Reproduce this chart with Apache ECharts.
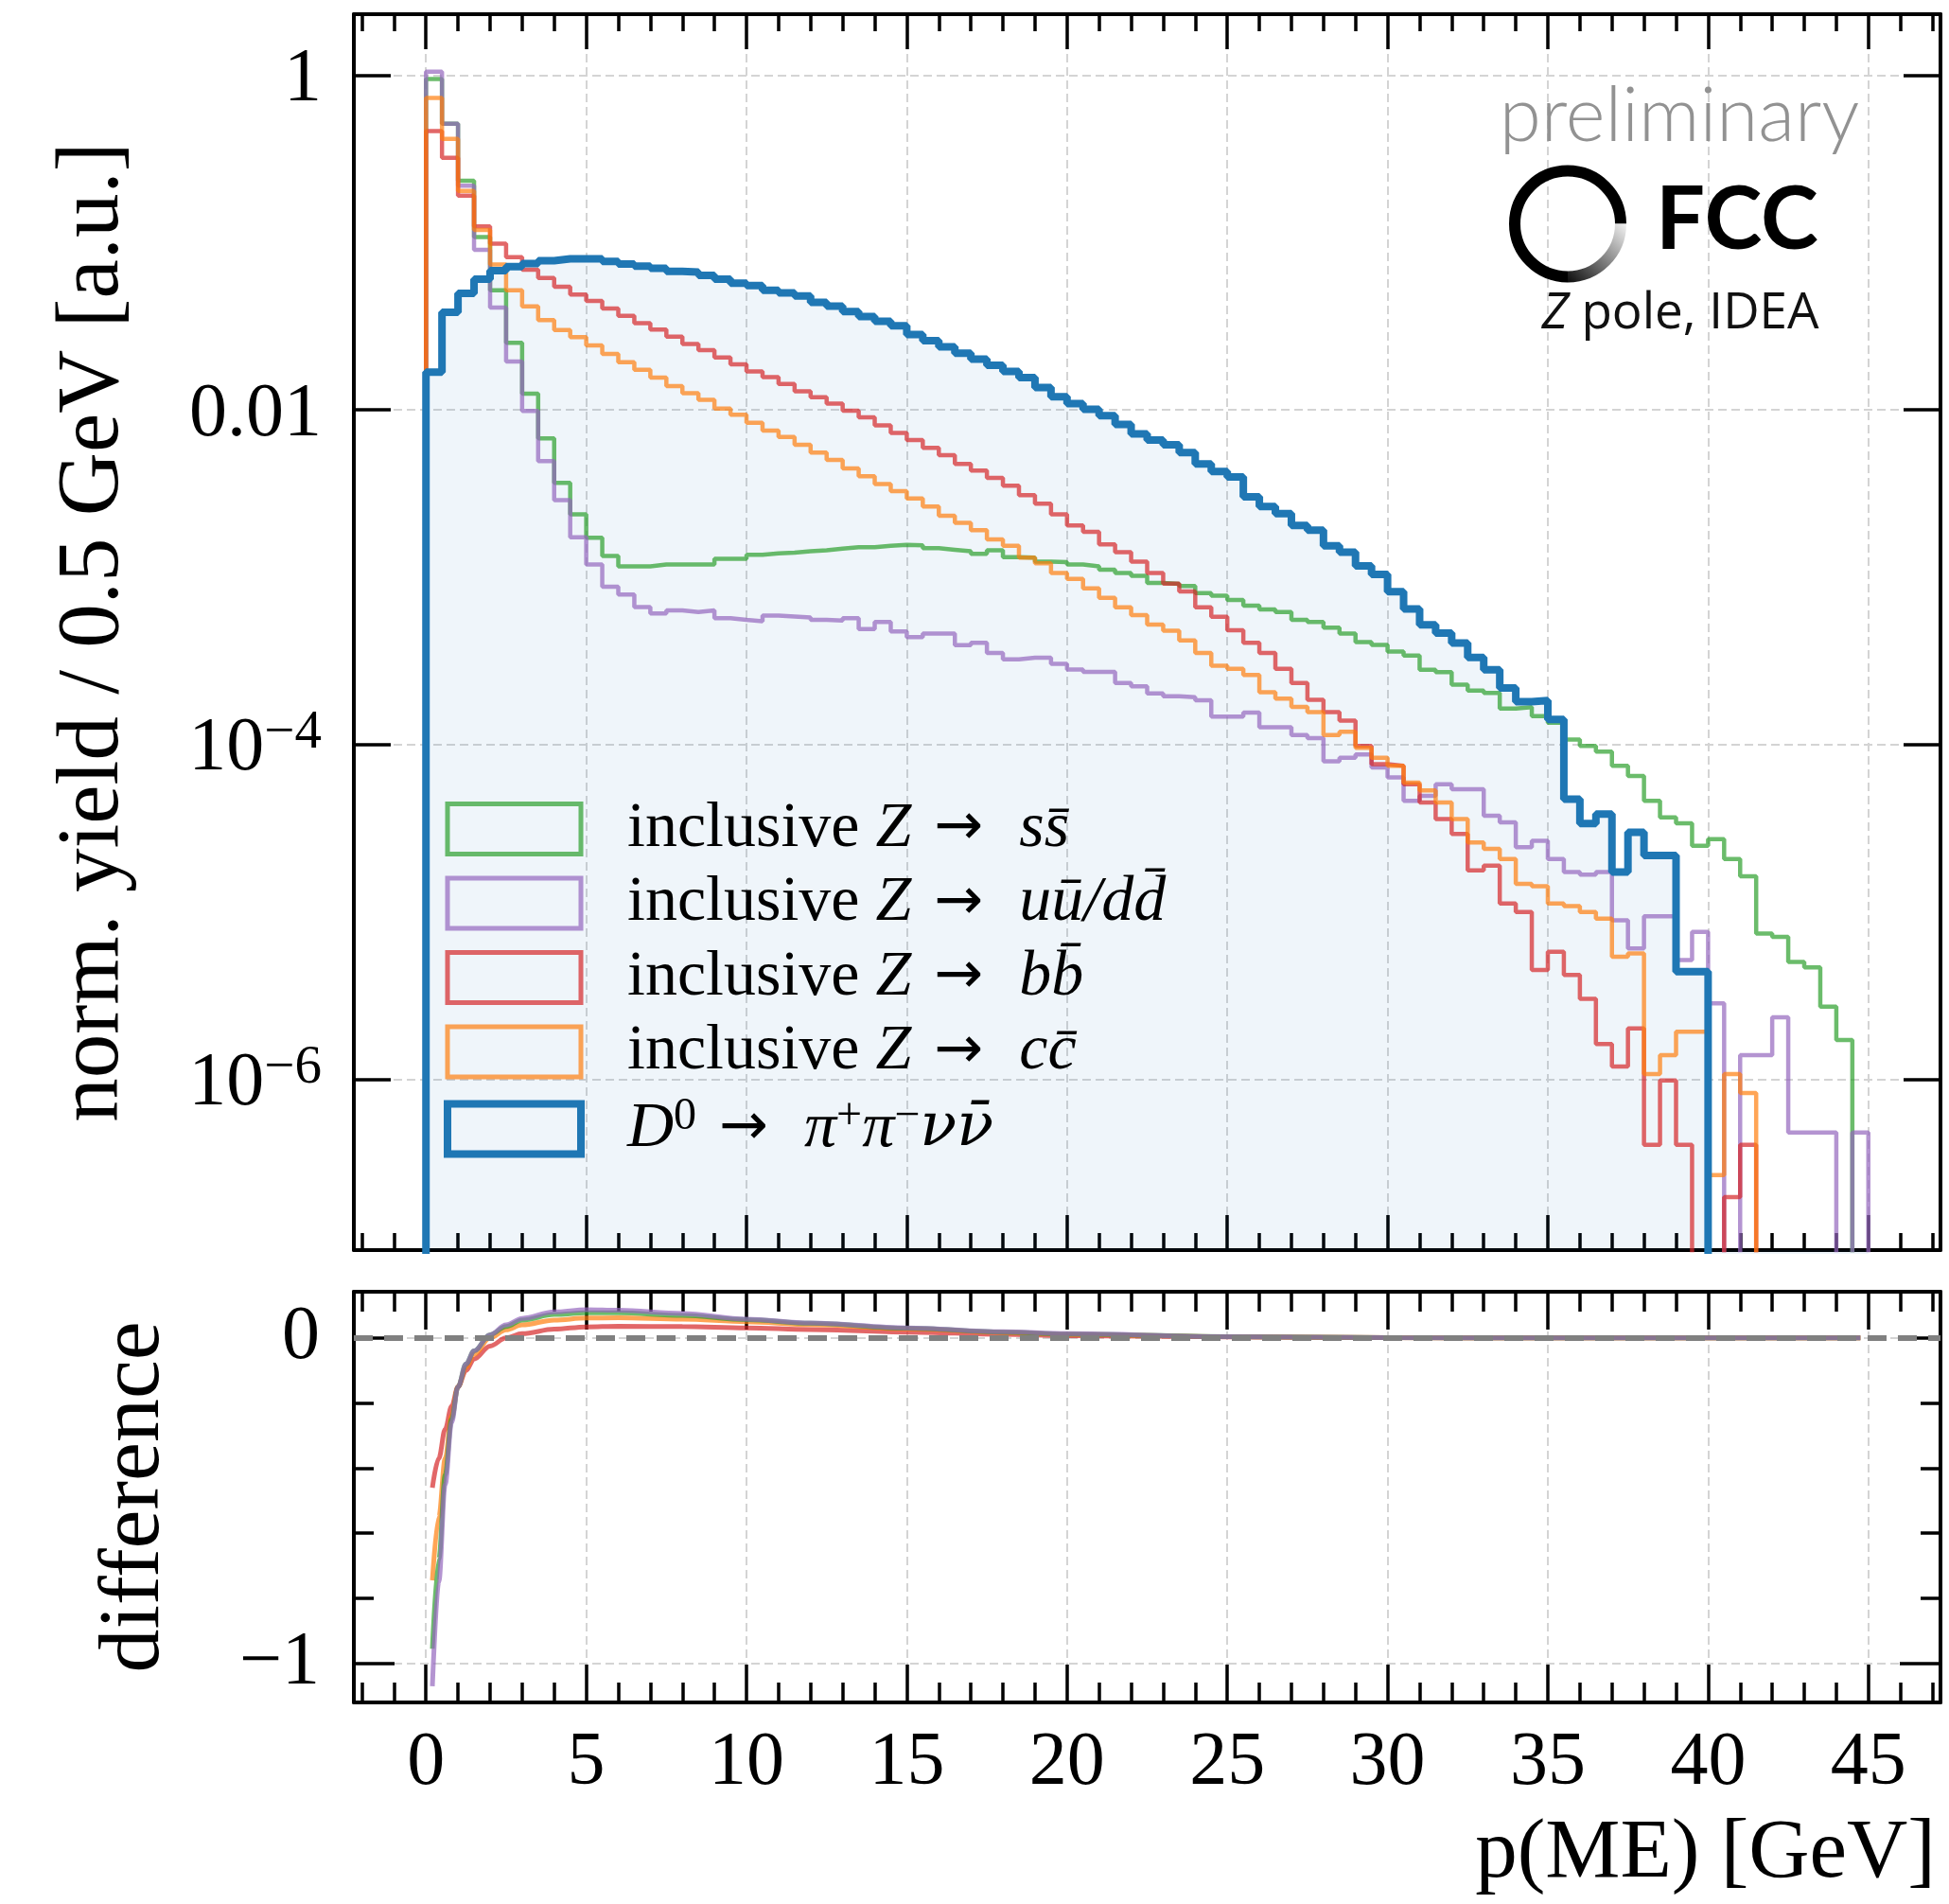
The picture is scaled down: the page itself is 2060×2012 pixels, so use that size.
<!DOCTYPE html>
<html>
<head>
<meta charset="utf-8">
<title>p(ME) D0 -> pi pi nu nubar</title>
<script src="https://cdn.jsdelivr.net/npm/echarts@6/dist/echarts.min.js"></script>
<style>
  html, body { margin: 0; padding: 0; background: #ffffff; }
  #chart { width: 2060px; height: 2012px; }
</style>
</head>
<body>
<div id="chart"></div>
<script>
// histogram bins: 0.5 GeV wide, 0 .. 45 GeV (90 bins), normalised yield per bin, 0 = empty bin
var binWidth = 0.5;

var ssbar = [
  0.951, 0.514, 0.234, 0.108, 0.0519, 0.0252, 0.0125, 0.00675, 0.00367, 0.00238,
  0.00172, 0.00134, 0.00116, 0.00116, 0.00119, 0.00119, 0.00119, 0.00119, 0.00129, 0.00129,
  0.00136, 0.00139, 0.00140, 0.00143, 0.00145, 0.00148, 0.00151, 0.00151, 0.00154, 0.00156,
  0.00155, 0.00149, 0.00146, 0.00143, 0.00138, 0.00145, 0.00132, 0.00131, 0.00124, 0.00123,
  0.00119, 0.00116, 0.00111, 0.00106, 0.00102, 9.23e-4, 9.12e-4, 8.85e-4, 8.04e-4, 7.76e-4,
  7.31e-4, 6.76e-4, 6.41e-4, 6.19e-4, 5.56e-4, 5.40e-4, 4.99e-4, 4.61e-4, 4.10e-4, 3.94e-4,
  3.60e-4, 3.40e-4, 2.80e-4, 2.71e-4, 2.28e-4, 2.10e-4, 2.03e-4, 1.64e-4, 1.67e-4, 1.48e-4,
  1.35e-4, 1.07e-4, 9.79e-5, 9.06e-5, 7.45e-5, 6.49e-5, 4.61e-5, 3.67e-5, 3.38e-5, 2.48e-5,
  2.72e-5, 2.07e-5, 1.63e-5, 7.41e-6, 7.08e-6, 5.02e-6, 4.65e-6, 2.71e-6, 1.71e-6, 0
];
var uudd = [
  1.05, 0.514, 0.219, 0.0906, 0.0409, 0.0195, 0.00986, 0.00495, 0.00289, 0.00173,
  0.00119, 8.77e-4, 7.87e-4, 6.62e-4, 6.07e-4, 6.34e-4, 6.19e-4, 6.34e-4, 5.69e-4, 5.56e-4,
  5.45e-4, 5.89e-4, 5.82e-4, 5.75e-4, 5.56e-4, 5.50e-4, 5.69e-4, 4.89e-4, 5.40e-4, 4.74e-4,
  4.38e-4, 4.61e-4, 4.61e-4, 3.93e-4, 4.05e-4, 3.52e-4, 3.23e-4, 3.30e-4, 3.30e-4, 3.03e-4,
  2.81e-4, 2.72e-4, 2.72e-4, 2.33e-4, 2.23e-4, 2.02e-4, 1.94e-4, 1.92e-4, 1.84e-4, 1.47e-4,
  1.47e-4, 1.55e-4, 1.27e-4, 1.27e-4, 1.14e-4, 1.09e-4, 7.94e-5, 8.32e-5, 8.71e-5, 7.28e-5,
  6.35e-5, 4.61e-5, 4.93e-5, 5.78e-5, 5.41e-5, 5.41e-5, 3.75e-5, 3.42e-5, 2.43e-5, 2.66e-5,
  2.07e-5, 1.73e-5, 1.67e-5, 1.73e-5, 8.89e-6, 6.03e-6, 9.40e-6, 9.40e-6, 5.14e-6, 7.59e-6,
  2.84e-6, 0, 1.39e-6, 1.39e-6, 2.34e-6, 4.80e-7, 4.80e-7, 4.80e-7, 0, 4.80e-7
];
var bbbar = [
  0.465, 0.321, 0.191, 0.125, 0.0986, 0.0818, 0.0689, 0.0614, 0.0545, 0.0490,
  0.0448, 0.0404, 0.0365, 0.0330, 0.0302, 0.0274, 0.0248, 0.0228, 0.0206, 0.0187,
  0.0170, 0.0157, 0.0143, 0.0129, 0.0119, 0.0109, 0.00989, 0.00902, 0.00809, 0.00728,
  0.00661, 0.00593, 0.00536, 0.00476, 0.00434, 0.00392, 0.00352, 0.00309, 0.00275, 0.00238,
  0.00204, 0.00187, 0.00157, 0.00141, 0.00124, 0.00106, 9.16e-4, 8.22e-4, 6.61e-4, 5.81e-4,
  4.82e-4, 4.05e-4, 3.52e-4, 2.83e-4, 2.33e-4, 1.85e-4, 1.56e-4, 1.39e-4, 9.79e-5, 7.62e-5,
  7.45e-5, 5.78e-5, 4.50e-5, 3.58e-5, 2.92e-5, 1.77e-5, 1.89e-5, 1.12e-5, 9.98e-6, 4.49e-6,
  5.77e-6, 4.19e-6, 3.02e-6, 1.62e-6, 1.19e-6, 2.01e-6, 4.04e-7, 9.82e-7, 4.04e-7, 0,
  0, 1.97e-7, 4.04e-7, 0, 0, 0, 0, 0, 0, 0
];
var ccbar = [
  0.733, 0.417, 0.204, 0.119, 0.0741, 0.0519, 0.0416, 0.0344, 0.0300, 0.0272,
  0.0243, 0.0216, 0.0193, 0.0174, 0.0156, 0.0139, 0.0126, 0.0115, 0.0102, 0.00935,
  0.00838, 0.00752, 0.00689, 0.00618, 0.00555, 0.00502, 0.00447, 0.00401, 0.00360, 0.00327,
  0.00296, 0.00265, 0.00233, 0.00211, 0.00191, 0.00168, 0.00154, 0.00131, 0.00121, 0.00106,
  9.77e-4, 8.57e-4, 7.53e-4, 6.61e-4, 5.93e-4, 5.21e-4, 4.78e-4, 4.19e-4, 3.52e-4, 2.96e-4,
  2.83e-4, 2.60e-4, 2.05e-4, 1.88e-4, 1.68e-4, 1.56e-4, 1.14e-4, 1.19e-4, 9.55e-5, 8.34e-5,
  7.45e-5, 5.92e-5, 5.32e-5, 4.50e-5, 3.58e-5, 2.60e-5, 2.38e-5, 2.07e-5, 1.47e-5, 1.42e-5,
  1.12e-5, 1.08e-5, 9.98e-6, 9.10e-6, 5.38e-6, 5.64e-6, 1.07e-6, 1.39e-6, 1.92e-6, 1.92e-6,
  2.67e-7, 1.07e-6, 8.26e-7, 0, 0, 0, 0, 0, 0, 0
];
var d0signal = [
  0.0168, 0.0383, 0.0497, 0.0604, 0.0679, 0.0718, 0.0750, 0.0780, 0.0800, 0.0800,
  0.0800, 0.0773, 0.0745, 0.0724, 0.0702, 0.0673, 0.0667, 0.0638, 0.0604, 0.0573,
  0.0553, 0.0519, 0.0501, 0.0480, 0.0440, 0.0417, 0.0387, 0.0361, 0.0339, 0.0318,
  0.0282, 0.0259, 0.0238, 0.0218, 0.0201, 0.0185, 0.0170, 0.0156, 0.0136, 0.0120,
  0.0109, 0.0101, 0.00923, 0.00820, 0.00719, 0.00661, 0.00618, 0.00555, 0.00476, 0.00428,
  0.00397, 0.00302, 0.00265, 0.00240, 0.00204, 0.00191, 0.00154, 0.00141, 0.00117, 0.00104,
  8.18e-4, 6.46e-4, 5.19e-4, 4.63e-4, 4.04e-4, 3.31e-4, 2.80e-4, 2.18e-4, 1.80e-4, 1.83e-4,
  1.41e-4, 4.71e-5, 3.37e-5, 3.84e-5, 1.73e-5, 2.99e-5, 2.17e-5, 2.17e-5, 4.39e-6, 4.39e-6,
  0, 0, 0, 0, 0, 0, 0, 0, 0, 0
];

// lower panel: difference curves
var diffX  = [0.2, 0.4, 0.6, 0.8, 1.0, 1.25, 1.5, 2.0, 2.5, 3.0, 4.0, 5.0, 6.0, 8.0, 10, 12, 15, 18, 20, 25, 30, 35, 40, 44.75];
var diffSs = [-0.955, -0.68, -0.42, -0.25, -0.15, -0.08, -0.04, 0.01, 0.035, 0.055, 0.072, 0.077, 0.077, 0.069, 0.056, 0.045, 0.03, 0.018, 0.012, 0.004, 0.001, 0, 0, 0];
var diffUd = [-1.07, -0.75, -0.45, -0.26, -0.15, -0.08, -0.04, 0.01, 0.04, 0.06, 0.08, 0.087, 0.085, 0.075, 0.058, 0.046, 0.031, 0.019, 0.013, 0.004, 0.001, 0, 0, 0];
var diffBb = [-0.46, -0.37, -0.28, -0.21, -0.15, -0.10, -0.065, -0.025, 0.0, 0.013, 0.027, 0.034, 0.036, 0.035, 0.031, 0.026, 0.018, 0.011, 0.007, 0.003, 0.001, 0, 0, 0];
var diffCc = [-0.745, -0.55, -0.37, -0.24, -0.15, -0.09, -0.05, 0.0, 0.025, 0.04, 0.055, 0.061, 0.062, 0.058, 0.05, 0.041, 0.028, 0.017, 0.011, 0.004, 0.001, 0, 0, 0];

// ticks and tick labels
var xMajorTicks = [0, 5, 10, 15, 20, 25, 30, 35, 40, 45];
var xMinorTicks = [-2, -1, 1, 2, 3, 4, 6, 7, 8, 9, 11, 12, 13, 14, 16, 17, 18, 19, 21, 22, 23, 24,
                   26, 27, 28, 29, 31, 32, 33, 34, 36, 37, 38, 39, 41, 42, 43, 44, 46, 47];
var yTopTicks = [1, 0.01, 1e-4, 1e-6];
var yTopLabels = ['{b|1}', '{b|0.01}', '{b|10}{s|\u22124}', '{b|10}{s|\u22126}'];
var yBotTicks = [0, -1];
var yBotLabels = ['0', '\u22121'];
var yBotMinorTicks = [-0.2, -0.4, -0.6, -0.8];

var SERIF = "'Liberation Serif', 'DejaVu Serif', serif";
var EMPTY = 1e-12;   // stand-in for empty bins on the log axis (clipped away)

var colSs = 'rgba(44,160,44,0.7)';
var colUd = 'rgba(148,103,189,0.7)';
var colBb = 'rgba(214,39,40,0.7)';
var colCc = 'rgba(255,127,14,0.7)';
var colD0 = '#1f77b4';

var names = {
  ss: 'inclusive Z \u2192 ss\u0304',
  ud: 'inclusive Z \u2192 uu\u0304/dd\u0304',
  bb: 'inclusive Z \u2192 bb\u0304',
  cc: 'inclusive Z \u2192 cc\u0304',
  d0: 'D0 \u2192 \u03c0+\u03c0\u2212\u03bd\u03bd\u0304'
};
var legendRich = {};
legendRich[names.ss] = '{g| }{t|inclusive }{i|Z}{a|\u2192}{i|ss\u0304}';
legendRich[names.ud] = '{g| }{t|inclusive }{i|Z}{a|\u2192}{i|uu\u0304/dd\u0304}';
legendRich[names.bb] = '{g| }{t|inclusive }{i|Z}{a|\u2192}{i|bb\u0304}';
legendRich[names.cc] = '{g| }{t|inclusive }{i|Z}{a|\u2192}{i|cc\u0304}';
legendRich[names.d0] = '{g| }{i|D}{p|0}{a|\u2192}{i|\u03c0}{p|+}{i|\u03c0}{p|\u2212}{n|\u03bd\u03bd\u0304}';

// histogram -> step outline points (bin left edges, closing at 45 GeV)
function stepData(vals) {
  var pts = [[0, EMPTY]];
  for (var i = 0; i < vals.length; i++) {
    pts.push([i * binWidth, vals[i] > 0 ? vals[i] : EMPTY]);
  }
  var last = vals[vals.length - 1];
  pts.push([vals.length * binWidth, last > 0 ? last : EMPTY]);
  pts.push([vals.length * binWidth, EMPTY]);
  return pts;
}
function pairs(xs, ys) {
  return xs.map(function (x, i) { return [x, ys[i]]; });
}

var gridLine = { show: true, lineStyle: { color: '#d4d4d4', width: 2, type: [9, 5] } };
var frame = { show: true, onZero: false, lineStyle: { color: '#000', width: 4 } };
var noLine = { show: false, onZero: false };

function xAxisDef(grid, pos, ticks, len, opts) {
  return Object.assign({
    type: 'value', gridIndex: grid, position: pos, min: -2.25, max: 47.25,
    axisLine: noLine,
    axisTick: { show: true, inside: true, length: len, customValues: ticks, lineStyle: { color: '#000', width: 3.5 } },
    axisLabel: { show: false },
    splitLine: { show: false }
  }, opts || {});
}

var myChart = echarts.init(document.getElementById('chart'), null, { renderer: 'canvas' });

var option = {
  backgroundColor: '#ffffff',
  animation: false,
  grid: [
    { left: 374, top: 15, width: 1677, height: 1306 },
    { left: 374, top: 1365, width: 1677, height: 434 }
  ],
  xAxis: [
    xAxisDef(0, 'bottom', xMajorTicks, 37, { axisLine: frame, splitLine: gridLine }),
    xAxisDef(0, 'bottom', xMinorTicks, 18),
    xAxisDef(0, 'top', xMajorTicks, 37, { axisLine: frame }),
    xAxisDef(0, 'top', xMinorTicks, 18),
    xAxisDef(1, 'bottom', xMajorTicks, 40, {
      axisLine: frame, splitLine: gridLine,
      axisLabel: { show: true, customValues: xMajorTicks, margin: 25, color: '#000',
                   fontFamily: SERIF, fontSize: 80, lineHeight: 80 }
    }),
    xAxisDef(1, 'bottom', xMinorTicks, 21),
    xAxisDef(1, 'top', xMajorTicks, 40, { axisLine: frame }),
    xAxisDef(1, 'top', xMinorTicks, 21)
  ],
  yAxis: [
    {
      type: 'log', logBase: 10, gridIndex: 0, position: 'left', min: 9.5e-8, max: 2.32,
      name: 'norm. yield / 0.5 GeV [a.u.]', nameLocation: 'middle', nameGap: 228,
      nameTextStyle: { fontFamily: SERIF, fontSize: 93, color: '#000' },
      axisLine: frame,
      axisTick: { show: true, inside: true, length: 39, customValues: yTopTicks, lineStyle: { color: '#000', width: 3.5 } },
      axisLabel: {
        show: true, customValues: yTopTicks, margin: 34,
        formatter: function (v) {
          for (var k = 0; k < yTopTicks.length; k++) {
            if (Math.abs(Math.log(v / yTopTicks[k])) < 0.01) return yTopLabels[k];
          }
          return '';
        },
        rich: {
          b: { fontFamily: SERIF, fontSize: 80, lineHeight: 80, padding: [11, 0, 0, 0], color: '#000' },
          s: { fontFamily: SERIF, fontSize: 57, lineHeight: 60, verticalAlign: 'top', color: '#000' }
        }
      },
      splitLine: gridLine
    },
    {
      type: 'log', logBase: 10, gridIndex: 0, position: 'right', min: 9.5e-8, max: 2.32,
      axisLine: frame,
      axisTick: { show: true, inside: true, length: 39, customValues: yTopTicks, lineStyle: { color: '#000', width: 3.5 } },
      axisLabel: { show: false },
      splitLine: { show: false }
    },
    {
      type: 'value', gridIndex: 1, position: 'left', min: -1.12, max: 0.142,
      name: 'difference', nameLocation: 'middle', nameGap: 185,
      nameTextStyle: { fontFamily: SERIF, fontSize: 92, color: '#000' },
      axisLine: frame,
      axisTick: { show: true, inside: true, length: 43, customValues: yBotTicks, lineStyle: { color: '#000', width: 3.5 } },
      axisLabel: {
        show: true, customValues: yBotTicks, margin: 36, color: '#000', fontFamily: SERIF, fontSize: 80,
        formatter: function (v) { return yBotLabels[yBotTicks.indexOf(Math.round(v))]; }
      },
      splitLine: gridLine
    },
    {
      type: 'value', gridIndex: 1, position: 'left', min: -1.12, max: 0.142,
      axisLine: noLine,
      axisTick: { show: true, inside: true, length: 21, customValues: yBotMinorTicks, lineStyle: { color: '#000', width: 3.5 } },
      axisLabel: { show: false }, splitLine: { show: false }
    },
    {
      type: 'value', gridIndex: 1, position: 'right', min: -1.12, max: 0.142,
      axisLine: frame,
      axisTick: { show: true, inside: true, length: 43, customValues: yBotTicks, lineStyle: { color: '#000', width: 3.5 } },
      axisLabel: { show: false }, splitLine: { show: false }
    },
    {
      type: 'value', gridIndex: 1, position: 'right', min: -1.12, max: 0.142,
      axisLine: noLine,
      axisTick: { show: true, inside: true, length: 21, customValues: yBotMinorTicks, lineStyle: { color: '#000', width: 3.5 } },
      axisLabel: { show: false }, splitLine: { show: false }
    }
  ],
  legend: {
    orient: 'vertical', left: 469, top: 842, padding: 0,
    itemWidth: 141, itemHeight: 53, itemGap: 10.5,
    selectedMode: false,
    formatter: function (name) { return legendRich[name]; },
    textStyle: {
      fontFamily: SERIF, fontSize: 68, lineHeight: 53, color: '#000',
      rich: {
        g: { width: 44, lineHeight: 53, fontSize: 68 },
        t: { fontFamily: SERIF, fontSize: 68, lineHeight: 53, color: '#000' },
        i: { fontFamily: SERIF, fontSize: 68, lineHeight: 53, fontStyle: 'italic', color: '#000' },
        a: { fontFamily: "'DejaVu Sans', sans-serif", fontSize: 62, lineHeight: 53, color: '#000',
             padding: [0, 38, 0, 24] },
        n: { fontFamily: "'DejaVu Serif', serif", fontSize: 64, lineHeight: 53, fontStyle: 'italic', color: '#000' },
        p: { fontFamily: SERIF, fontSize: 48, lineHeight: 28, padding: [0, 0, 26, 0], color: '#000' }
      }
    },
    data: [
      { name: names.ss, icon: 'rect', itemStyle: { color: 'rgba(0,0,0,0)', borderColor: colSs, borderWidth: 5 } },
      { name: names.ud, icon: 'rect', itemStyle: { color: 'rgba(0,0,0,0)', borderColor: colUd, borderWidth: 5 } },
      { name: names.bb, icon: 'rect', itemStyle: { color: 'rgba(0,0,0,0)', borderColor: colBb, borderWidth: 5 } },
      { name: names.cc, icon: 'rect', itemStyle: { color: 'rgba(0,0,0,0)', borderColor: colCc, borderWidth: 5 } },
      { name: names.d0, icon: 'rect', itemStyle: { color: 'rgba(0,0,0,0)', borderColor: colD0, borderWidth: 8 } }
    ]
  },
  graphic: [
    {
      type: 'text', x: 1775, y: 123, z: 10,
      style: { text: 'preliminary', fill: '#929292', fontFamily: 'Lato', fontWeight: 300, fontSize: 80,
               align: 'center', verticalAlign: 'middle' }
    },
    {
      type: 'arc', z: 10,
      shape: { cx: 1657, cy: 236.5, r: 56, startAngle: Math.PI / 2, endAngle: Math.PI * 2, clockwise: true },
      style: { stroke: '#000', lineWidth: 12, fill: null }
    },
    {
      type: 'arc', z: 10,
      shape: { cx: 1657, cy: 236.5, r: 56, startAngle: 0, endAngle: Math.PI / 2, clockwise: true },
      style: {
        lineWidth: 12, fill: null,
        stroke: { type: 'linear', x: 1, y: 0, x2: 0, y2: 1,
                  colorStops: [{ offset: 0, color: '#ffffff' }, { offset: 1, color: '#000000' }] }
      }
    },
    {
      type: 'text', x: 1750, y: 233, z: 10,
      style: { text: 'FCC', fill: '#000', fontFamily: 'Lato', fontWeight: 'bold', fontSize: 92,
               align: 'left', verticalAlign: 'middle' }
    },
    {
      type: 'text', x: 1776, y: 332, z: 10,
      style: {
        text: '{z|Z}{t| pole, IDEA}', align: 'center', verticalAlign: 'middle',
        rich: {
          z: { fontFamily: 'Open Sans', fontStyle: 'italic', fontSize: 53, fill: '#111' },
          t: { fontFamily: 'Open Sans', fontSize: 53, fill: '#111' }
        }
      }
    },
    {
      type: 'text', x: 2046, y: 1960, z: 10,
      style: { text: 'p(ME) [GeV]', fill: '#000', fontFamily: SERIF, fontSize: 89,
               align: 'right', verticalAlign: 'middle' }
    }
  ],
  series: [
    { name: names.ss, type: 'line', xAxisIndex: 0, yAxisIndex: 0, step: 'end', showSymbol: false, silent: true,
      lineStyle: { color: colSs, width: 4.5 }, itemStyle: { color: colSs }, data: stepData(ssbar) },
    { name: names.ud, type: 'line', xAxisIndex: 0, yAxisIndex: 0, step: 'end', showSymbol: false, silent: true,
      lineStyle: { color: colUd, width: 4.5 }, itemStyle: { color: colUd }, data: stepData(uudd) },
    { name: names.bb, type: 'line', xAxisIndex: 0, yAxisIndex: 0, step: 'end', showSymbol: false, silent: true,
      lineStyle: { color: colBb, width: 4.5 }, itemStyle: { color: colBb }, data: stepData(bbbar) },
    { name: names.cc, type: 'line', xAxisIndex: 0, yAxisIndex: 0, step: 'end', showSymbol: false, silent: true,
      lineStyle: { color: colCc, width: 4.5 }, itemStyle: { color: colCc }, data: stepData(ccbar) },
    { name: names.d0, type: 'line', xAxisIndex: 0, yAxisIndex: 0, step: 'end', showSymbol: false, silent: true,
      lineStyle: { color: colD0, width: 8 }, itemStyle: { color: colD0 },
      areaStyle: { color: 'rgba(31,119,180,0.1)' }, data: stepData(d0signal) },

    { name: 'diff bb', type: 'line', xAxisIndex: 4, yAxisIndex: 2, smooth: 0.35, smoothMonotone: 'x', showSymbol: false, silent: true,
      lineStyle: { color: colBb, width: 5 }, data: pairs(diffX, diffBb) },
    { name: 'diff cc', type: 'line', xAxisIndex: 4, yAxisIndex: 2, smooth: 0.35, smoothMonotone: 'x', showSymbol: false, silent: true,
      lineStyle: { color: colCc, width: 5 }, data: pairs(diffX, diffCc) },
    { name: 'diff ss', type: 'line', xAxisIndex: 4, yAxisIndex: 2, smooth: 0.35, smoothMonotone: 'x', showSymbol: false, silent: true,
      lineStyle: { color: colSs, width: 5 }, data: pairs(diffX, diffSs) },
    { name: 'diff ud', type: 'line', xAxisIndex: 4, yAxisIndex: 2, smooth: 0.35, smoothMonotone: 'x', showSymbol: false, silent: true,
      lineStyle: { color: colUd, width: 5 }, data: pairs(diffX, diffUd),
      markLine: {
        silent: true, symbol: ['none', 'none'], label: { show: false },
        lineStyle: { color: '#808080', width: 6, type: [20, 12] },
        data: [{ yAxis: 0 }]
      }
    }
  ]
};

myChart.setOption(option);

window.addEventListener('resize', function () {
  myChart.resize();
});
</script>
</body>
</html>
